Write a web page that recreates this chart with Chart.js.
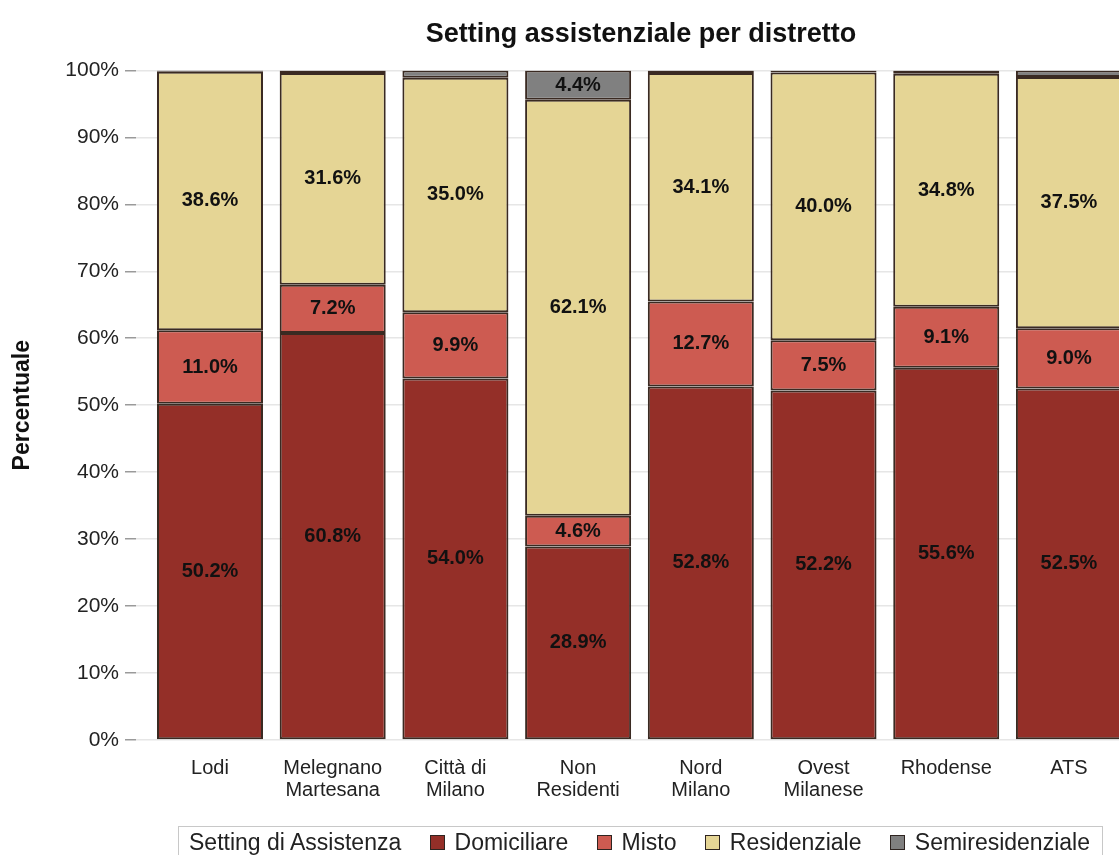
<!DOCTYPE html>
<html>
<head>
<meta charset="utf-8">
<script src="https://cdn.jsdelivr.net/npm/chart.js@4.4.0/dist/chart.umd.min.js"></script>
<style>
  body { margin: 0; background: #fff; overflow: hidden; font-family: "Liberation Sans", Arial, sans-serif; }
  #wrap { position: relative; width: 1146px; height: 855px; }
  #legend {
    position: absolute; left: 178px; top: 826px; width: 925px; height: 40px;
    box-sizing: border-box; border: 1px solid #c8c8c8;
    display: flex; align-items: center; justify-content: space-between;
    padding: 0 12px 8px 10px; font-size: 23px; color: #222;
  }
  #legend .item { display: flex; align-items: center; }
  #legend .box { width: 13px; height: 13px; border: 1.5px solid #2e2420; margin-right: 10px; }
</style>
</head>
<body>
<div id="wrap">
  <canvas id="myChart" width="1146" height="855"></canvas>
  <div id="legend"></div>
</div>
<script>
//categories and values (percent)
let distretti = ["Lodi", ["Melegnano", "Martesana"], ["Città di", "Milano"], ["Non", "Residenti"],
  ["Nord", "Milano"], ["Ovest", "Milanese"], "Rhodense", "ATS"];
let domiciliare = [50.2, 60.8, 54.0, 28.9, 52.8, 52.2, 55.6, 52.5];
let misto = [11.0, 7.2, 9.9, 4.6, 12.7, 7.5, 9.1, 9.0];
let residenziale = [38.6, 31.6, 35.0, 62.1, 34.1, 40.0, 34.8, 37.5];
let semiresidenziale = [0.2, 0.4, 1.1, 4.4, 0.4, 0.3, 0.5, 1.0];
let yTicks = [0, 10, 20, 30, 40, 50, 60, 70, 80, 90, 100];

let series = [
  { label: "Domiciliare", values: domiciliare, color: "#942f28" },
  { label: "Misto", values: misto, color: "#cd5b51" },
  { label: "Residenziale", values: residenziale, color: "#e5d595" },
  { label: "Semiresidenziale", values: semiresidenziale, color: "#808080" },
];

//TODO: build legend (title on the same row as the items)
function buildLegend() {
  let legend = document.getElementById("legend");
  let title = document.createElement("span");
  title.innerText = "Setting di Assistenza";
  legend.appendChild(title);
  series.forEach((s) => {
    let item = document.createElement("span");
    item.className = "item";
    let box = document.createElement("span");
    box.className = "box";
    box.style.background = s.color;
    item.appendChild(box);
    item.appendChild(document.createTextNode(s.label));
    legend.appendChild(item);
  });
}
buildLegend();

//TODO: draw the percent labels in the middle of each segment
const segmentLabels = {
  id: "segmentLabels",
  afterDatasetsDraw(chart) {
    let ctx = chart.ctx;
    ctx.save();
    ctx.font = "bold 20px 'Liberation Sans', Arial, sans-serif";
    ctx.fillStyle = "#111";
    ctx.textAlign = "center";
    ctx.textBaseline = "middle";
    chart.data.datasets.forEach((ds, i) => {
      chart.getDatasetMeta(i).data.forEach((bar, j) => {
        let v = ds.data[j].y;
        if (v < 2) return;
        let p = bar.getProps(["x", "y", "base"], true);
        ctx.fillText(v.toFixed(1) + "%", p.x, (p.y + p.base) / 2);
      });
    });
    ctx.restore();
  },
};

Chart.defaults.font.family = "'Liberation Sans', Arial, sans-serif";
Chart.defaults.color = "#222";

let canvas = document.getElementById("myChart").getContext("2d");
let myChart = new Chart(canvas, {
  type: "bar",
  data: {
    datasets: series.map((s) => ({
      label: s.label,
      data: s.values.map((v, i) => ({ x: i, y: v })),
      backgroundColor: s.color,
      borderColor: "#3a2a22",
      borderWidth: 2,
      borderSkipped: false,
      categoryPercentage: 1,
      barPercentage: 0.864,
    })),
  },
  options: {
    responsive: false,
    animation: false,
    layout: { padding: 0 },
    plugins: {
      legend: { display: false },
      tooltip: { enabled: false },
      title: {
        display: true,
        fullSize: false,
        text: "Setting assistenziale per distretto",
        font: { size: 27, weight: "bold" },
        color: "#111",
        padding: { top: 18, bottom: 20 },
      },
    },
    scales: {
      x: {
        type: "linear",
        stacked: true,
        offset: false,
        bounds: "data",
        min: -0.603,
        max: 7.628,
        afterBuildTicks: (scale) => {
          scale.ticks = distretti.map((_, i) => ({ value: i }));
        },
        afterFit: (scale) => {
          scale.height = 115;
        },
        grid: { display: false, drawTicks: false, offset: false },
        border: { display: false },
        ticks: {
          autoSkip: false,
          maxRotation: 0,
          padding: 17,
          font: { size: 20, lineHeight: 1.1 },
          color: "#222",
          callback: (v) => distretti[v],
        },
      },
      y: {
        stacked: true,
        min: 0,
        max: 100,
        afterBuildTicks: (scale) => {
          scale.ticks = yTicks.map((v) => ({ value: v }));
        },
        afterFit: (scale) => {
          scale.width = 136;
        },
        grid: { color: "#e6e6e6", tickColor: "#9a9a9a", tickLength: 11, lineWidth: 1.5 },
        border: { display: false },
        ticks: {
          padding: 6,
          font: { size: 21 },
          color: "#222",
          callback: (v) => v + "%",
        },
        title: {
          display: true,
          text: "Percentuale",
          font: { size: 23, weight: "bold" },
          color: "#111",
          padding: { top: 9 },
        },
      },
    },
  },
  plugins: [segmentLabels],
});
</script>
</body>
</html>
